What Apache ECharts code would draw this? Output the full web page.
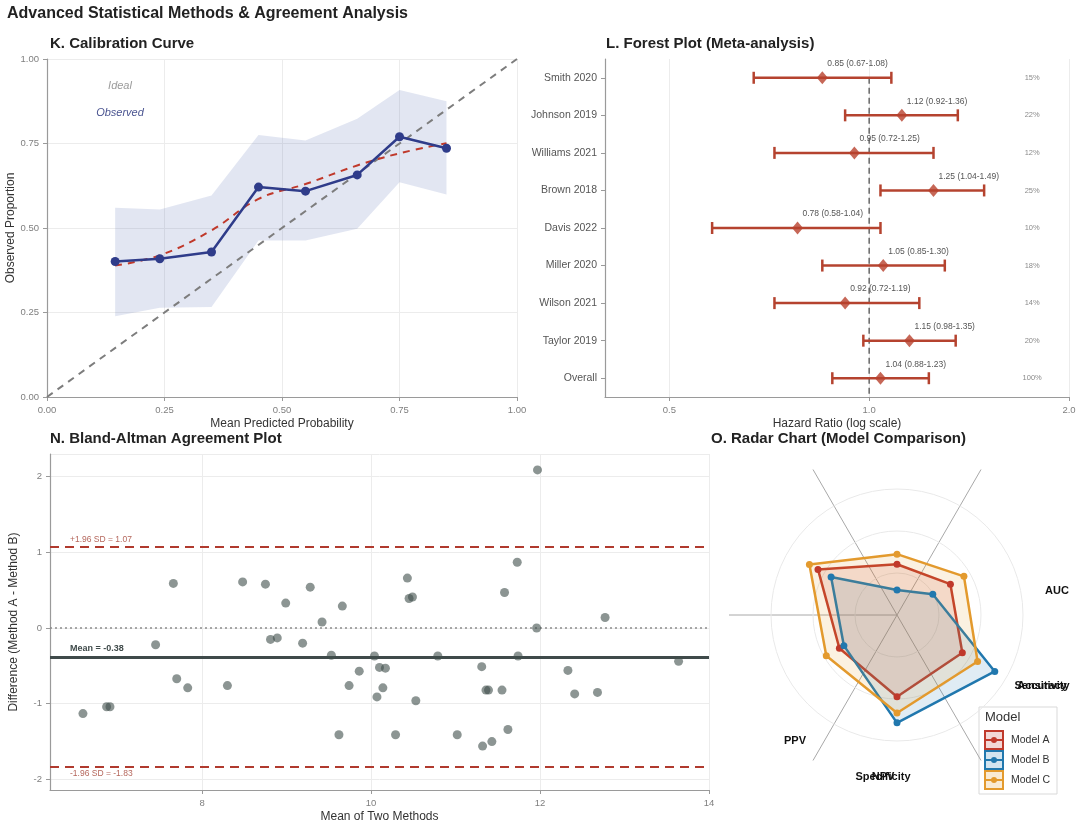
<!DOCTYPE html>
<html>
<head>
<meta charset="utf-8">
<title>Advanced Statistical Methods & Agreement Analysis</title>
<script src="https://cdn.jsdelivr.net/npm/echarts@6/dist/echarts.min.js"></script>
<style>
  html, body { margin: 0; padding: 0; background: #fff; }
  #wrap { position: relative; width: 1080px; height: 831px; }
  .layer { position: absolute; left: 0; top: 0; width: 1080px; height: 831px; }
</style>
</head>
<body>
<div id="wrap"></div>
<script>
// K. calibration curve
var calX = [0.145, 0.24, 0.35, 0.45, 0.55, 0.66, 0.75, 0.85];
var calObs = [0.401, 0.409, 0.429, 0.621, 0.609, 0.657, 0.770, 0.736];
var calLow = [0.239, 0.264, 0.266, 0.463, 0.463, 0.498, 0.635, 0.599];
var calHigh = [0.560, 0.555, 0.596, 0.775, 0.759, 0.823, 0.908, 0.875];
var calSmooth = [0.389, 0.419, 0.493, 0.586, 0.630, 0.685, 0.721, 0.751];

// L. forest plot
var studies = ['Smith 2020', 'Johnson 2019', 'Williams 2021', 'Brown 2018', 'Davis 2022',
  'Miller 2020', 'Wilson 2021', 'Taylor 2019', 'Overall'];
var hr = [0.85, 1.12, 0.95, 1.25, 0.78, 1.05, 0.92, 1.15, 1.04];
var hrLow = [0.67, 0.92, 0.72, 1.04, 0.58, 0.85, 0.72, 0.98, 0.88];
var hrHigh = [1.08, 1.36, 1.25, 1.49, 1.04, 1.30, 1.19, 1.35, 1.23];
var weights = ['15%', '22%', '12%', '25%', '10%', '18%', '14%', '20%', '100%'];

// N. Bland-Altman
var baMean = [11.97, 11.73, 10.43, 7.66, 8.48, 8.75, 9.28, 11.58, 10.45, 10.49, 8.99, 9.66,
  9.42, 12.77, 11.96, 7.45, 8.81, 8.89, 9.19, 9.53, 10.04, 10.79, 11.74, 13.64, 11.31,
  10.10, 10.17, 9.86, 12.33, 7.70, 7.83, 8.30, 9.74, 10.14, 11.36, 11.39, 11.55, 12.41,
  12.68, 10.07, 10.53, 6.59, 6.87, 6.91, 9.62, 10.29, 11.02, 11.62, 11.32, 11.43];
var baDiff = [2.09, 0.87, 0.66, 0.59, 0.61, 0.58, 0.54, 0.47, 0.39, 0.41, 0.33, 0.29,
  0.08, 0.14, 0.00, -0.22, -0.15, -0.13, -0.20, -0.36, -0.37, -0.37, -0.37, -0.44, -0.51,
  -0.52, -0.53, -0.57, -0.56, -0.67, -0.79, -0.76, -0.76, -0.79, -0.82, -0.82, -0.82, -0.87,
  -0.85, -0.91, -0.96, -1.13, -1.04, -1.04, -1.41, -1.41, -1.41, -1.34, -1.56, -1.50];
var baBias = -0.38;
var baUpper = 1.07;
var baLower = -1.83;

// O. radar (clockwise from the top)
var metrics = ['AUC', 'Sensitivity', 'Specificity', 'PPV', 'NPV', 'Accuracy'];
var models = ['Model A', 'Model B', 'Model C'];
var modelA = [0.302, 0.367, 0.449, 0.487, 0.396, 0.543];
var modelB = [0.149, 0.246, 0.672, 0.642, 0.365, 0.453];
var modelC = [0.362, 0.460, 0.554, 0.583, 0.486, 0.602];
var modelColors = ['#C0392B', '#2178AE', '#E39A2E'];
var modelFills = ['rgba(192,57,43,0.2)', 'rgba(33,120,174,0.2)', 'rgba(227,154,46,0.2)'];

var FONT = '"Liberation Sans", Arial, sans-serif';
var WEIGHT_COL = 1.76;

// each panel gets its own full-size transparent layer
function makeChart(option) {
  var dom = document.createElement('div');
  dom.className = 'layer';
  document.getElementById('wrap').appendChild(dom);
  var chart = echarts.init(dom);
  try {
    chart.setOption(option);
  } catch (e) {
    console.error(e);
  }
  return chart;
}

function titleOf(text, left, top, size) {
  return { text: text, left: left, top: top, padding: 0,
    textStyle: { fontSize: size || 15, fontWeight: 'bold', color: '#222', fontFamily: FONT } };
}

var axisBase = {
  axisLine: { show: true, onZero: false, lineStyle: { color: '#9a9a9a', width: 1.2 } },
  axisTick: { show: true, length: 4, lineStyle: { color: '#9a9a9a' } },
  axisLabel: { color: '#7f7f7f', fontSize: 9.5, fontFamily: FONT },
  splitLine: { show: true, lineStyle: { color: '#ececec', width: 1 } },
  nameLocation: 'middle',
  nameTextStyle: { color: '#333', fontSize: 12, fontFamily: FONT }
};
function ax(extra) {
  return Object.assign({}, axisBase, extra);
}
function lab(extra) {
  return Object.assign({}, axisBase.axisLabel, extra);
}
function fix2(v) { return v.toFixed(2); }

// ---- K. Calibration Curve ----
makeChart({
  animation: false,
  title: [
    titleOf('Advanced Statistical Methods & Agreement Analysis', 7, 6, 16),
    titleOf('K. Calibration Curve', 50, 36)
  ],
  grid: { left: 47, top: 59, width: 470, height: 338 },
  xAxis: ax({ type: 'value', min: 0, max: 1, interval: 0.25,
    name: 'Mean Predicted Probability', nameGap: 21, axisLabel: lab({ formatter: fix2 }) }),
  yAxis: ax({ type: 'value', min: 0, max: 1, interval: 0.25,
    name: 'Observed Proportion', nameGap: 30, axisLabel: lab({ formatter: fix2 }) }),
  series: [
    {
      type: 'custom', z: 1, silent: true,
      data: calX.map(function (x, i) { return [x, calLow[i], calHigh[i]]; }),
      encode: { x: 0, y: [1, 2] },
      renderItem: function (params, api) {
        if (params.dataIndex !== 0) return null;
        var pts = [];
        for (var i = 0; i < calX.length; i++) pts.push(api.coord([calX[i], calHigh[i]]));
        for (var j = calX.length - 1; j >= 0; j--) pts.push(api.coord([calX[j], calLow[j]]));
        return { type: 'polygon', shape: { points: pts }, style: { fill: 'rgba(112,128,192,0.2)' } };
      }
    },
    {
      name: 'Ideal', type: 'line', z: 2, data: [[0, 0], [1, 1]], symbol: 'none',
      lineStyle: { color: '#7d7d7d', width: 2, type: [7, 6] }
    },
    {
      name: 'Smoothed', type: 'line', z: 3, smooth: 0.4, symbol: 'none',
      data: calX.map(function (x, i) { return [x, calSmooth[i]]; }),
      lineStyle: { color: '#C0392B', width: 2, type: [7, 6] }
    },
    {
      name: 'Observed', type: 'line', z: 4,
      data: calX.map(function (x, i) { return [x, calObs[i]]; }),
      symbol: 'circle', symbolSize: 9,
      lineStyle: { color: '#2F3C8A', width: 2.5 },
      itemStyle: { color: '#2F3C8A' }
    }
  ],
  graphic: [
    { type: 'text', x: 120, y: 86, style: { text: 'Ideal', fill: '#9a9a9a', fontSize: 11, fontStyle: 'italic', fontFamily: FONT, align: 'center', verticalAlign: 'middle' } },
    { type: 'text', x: 120, y: 113, style: { text: 'Observed', fill: '#4A5490', fontSize: 11, fontStyle: 'italic', fontFamily: FONT, align: 'center', verticalAlign: 'middle' } }
  ]
});

// ---- L. Forest Plot ----
makeChart({
  animation: false,
  title: titleOf('L. Forest Plot (Meta-analysis)', 606, 36),
  grid: { left: 605, top: 59, width: 464, height: 338 },
  xAxis: ax({ type: 'log', logBase: 2, min: 0.4, max: 2,
    name: 'Hazard Ratio (log scale)', nameGap: 21,
    axisLabel: lab({ showMinLabel: false, formatter: function (v) { return (+v).toFixed(1); } }) }),
  yAxis: ax({ type: 'category', data: studies, inverse: true,
    axisTick: { show: true, alignWithLabel: true, length: 4, lineStyle: { color: '#9a9a9a' } },
    splitLine: { show: false },
    axisLabel: { color: '#555', fontSize: 10.5, fontFamily: FONT } }),
  series: [
    {
      type: 'custom', z: 3, silent: true,
      data: studies.map(function (s, i) { return [hrLow[i], hrHigh[i], i]; }),
      encode: { x: [0, 1], y: 2 },
      renderItem: function (params, api) {
        var i = params.dataIndex;
        var p1 = api.coord([hrLow[i], i]);
        var p2 = api.coord([hrHigh[i], i]);
        var pe = api.coord([hr[i], i]);
        var pw = api.coord([WEIGHT_COL, i]);
        var st = { stroke: '#B5432F', lineWidth: 2.5 };
        var cap = 6;
        return {
          type: 'group',
          children: [
            { type: 'line', shape: { x1: p1[0], y1: p1[1], x2: p2[0], y2: p2[1] }, style: st },
            { type: 'line', shape: { x1: p1[0], y1: p1[1] - cap, x2: p1[0], y2: p1[1] + cap }, style: st },
            { type: 'line', shape: { x1: p2[0], y1: p2[1] - cap, x2: p2[0], y2: p2[1] + cap }, style: st },
            { type: 'text', x: pe[0] + 5, y: pe[1] - 14,
              style: { text: hr[i].toFixed(2) + ' (' + hrLow[i].toFixed(2) + '-' + hrHigh[i].toFixed(2) + ')',
                fill: '#555', fontSize: 8.5, fontFamily: FONT, align: 'left', verticalAlign: 'middle' } },
            { type: 'text', x: pw[0], y: pw[1],
              style: { text: weights[i], fill: '#8a8a8a', fontSize: 7.5, fontFamily: FONT,
                align: 'center', verticalAlign: 'middle' } }
          ]
        };
      }
    },
    {
      type: 'scatter', z: 4,
      data: hr.map(function (v, i) { return [v, i]; }),
      symbol: 'diamond', symbolSize: [11, 13],
      itemStyle: { color: '#B8412D' }
    },
    {
      // reference line at HR = 1
      type: 'line', z: 2, symbol: 'none', silent: true,
      data: [[1, -0.5], [1, studies.length - 0.5]],
      lineStyle: { color: '#666', width: 1.5, type: [6, 4] }
    }
  ]
});

// ---- N. Bland-Altman ----
makeChart({
  animation: false,
  title: titleOf('N. Bland-Altman Agreement Plot', 50, 431),
  grid: { left: 48, top: 454, width: 661, height: 336 },
  xAxis: ax({ type: 'value', min: 6.2, max: 14,
    name: 'Mean of Two Methods', nameGap: 21, axisLabel: lab({ showMinLabel: false }) }),
  yAxis: ax({ type: 'value', min: -2.14, max: 2.3,
    name: 'Difference (Method A - Method B)', nameGap: 30,
    axisLabel: lab({ showMinLabel: false, showMaxLabel: false }) }),
  series: [
    {
      type: 'scatter', z: 4,
      data: baMean.map(function (m, i) { return [m, baDiff[i]]; }),
      symbolSize: 9,
      itemStyle: { color: 'rgba(64,78,75,0.75)' },
      markLine: {
        silent: true, symbol: 'none', z: 3, animation: false,
        data: [
          { yAxis: 0, lineStyle: { color: '#8c8c8c', width: 1.5, type: [2, 3] }, label: { show: false } },
          { yAxis: baUpper, lineStyle: { color: '#B03A2E', width: 2, type: [9, 6] },
            label: { show: true, position: 'insideStartTop', distance: [20, 3],
              formatter: '+1.96 SD = ' + baUpper.toFixed(2), color: '#B5675C', fontSize: 8.5, fontFamily: FONT } },
          { yAxis: baLower, lineStyle: { color: '#B03A2E', width: 2, type: [9, 6] },
            label: { show: true, position: 'insideStartBottom', distance: [20, 3],
              formatter: '-1.96 SD = ' + baLower.toFixed(2), color: '#B5675C', fontSize: 8.5, fontFamily: FONT } },
          { yAxis: baBias, lineStyle: { color: '#3F4A4A', width: 3, type: 'solid' },
            label: { show: true, position: 'insideStartTop', distance: [20, 4],
              formatter: 'Mean = ' + baBias.toFixed(2), color: '#3F4A4A', fontWeight: 'bold', fontSize: 9, fontFamily: FONT } }
        ]
      }
    }
  ]
});

// ---- O. Radar ----
// ECharts radar goes counter-clockwise, the picture goes clockwise
function ccw(arr) {
  return [arr[0], arr[5], arr[4], arr[3], arr[2], arr[1]];
}
var legendItems = [];
models.forEach(function (m, k) {
  var yy = 24 + k * 20;
  legendItems.push(
    { type: 'rect', shape: { x: 6, y: yy, width: 18, height: 18 }, style: { fill: modelFills[k], stroke: modelColors[k], lineWidth: 2 } },
    { type: 'line', shape: { x1: 6, y1: yy + 9, x2: 24, y2: yy + 9 }, style: { stroke: modelColors[k], lineWidth: 2 } },
    { type: 'circle', shape: { cx: 15, cy: yy + 9, r: 3 }, style: { fill: modelColors[k] } },
    { type: 'text', x: 32, y: yy + 9, style: { text: m, fill: '#333', fontSize: 10.5, fontFamily: FONT, verticalAlign: 'middle' } }
  );
});
function axisName(text, x, y) {
  return { type: 'text', x: x, y: y, style: { text: text, fill: '#111', fontSize: 11, fontWeight: 'bold',
    fontFamily: FONT, align: 'center', verticalAlign: 'middle' } };
}

makeChart({
  animation: false,
  title: titleOf('O. Radar Chart (Model Comparison)', 711, 431),
  radar: {
    center: [897, 615],
    radius: 168,
    startAngle: 90,
    shape: 'circle',
    splitNumber: 4,
    indicator: ccw(metrics).map(function (m) { return { name: m, min: 0, max: 1 }; }),
    axisName: { show: false },
    axisLine: { show: false },
    axisTick: { show: false },
    axisLabel: { show: false },
    splitArea: { show: false },
    splitLine: { lineStyle: { color: ['#e9e9e9', '#e9e9e9', '#e9e9e9', '#e9e9e9', 'rgba(0,0,0,0)'], width: 1 } }
  },
  polar: { center: [897, 615], radius: 168 },
  angleAxis: {
    type: 'value', min: 0, max: 360, interval: 60,
    startAngle: 0, clockwise: false,
    axisLine: { show: false }, axisTick: { show: false }, axisLabel: { show: false },
    splitLine: { show: true, lineStyle: { color: ['rgba(0,0,0,0)', '#a8a8a8', '#a8a8a8', '#a8a8a8', '#a8a8a8', '#a8a8a8'], width: 1 } }
  },
  radiusAxis: { type: 'value', show: false, min: 0, max: 1, splitLine: { show: false } },
  series: [
    {
      type: 'radar', z: 3,
      symbol: 'circle', symbolSize: 7,
      data: [modelA, modelB, modelC].map(function (vals, k) {
        return {
          name: models[k], value: ccw(vals),
          lineStyle: { color: modelColors[k], width: 2.5 },
          itemStyle: { color: modelColors[k] },
          areaStyle: { color: modelFills[k] }
        };
      })
    }
  ],
  graphic: [
    axisName('AUC', 1057, 591),
    axisName('Sensitivity', 1042, 686),
    axisName('Accuracy', 1042, 686),
    axisName('Specificity', 883, 777),
    axisName('NPV', 883, 777),
    axisName('PPV', 795, 741),
    {
      type: 'group', x: 979, y: 707, z: 100,
      children: [
        { type: 'rect', shape: { x: 0, y: 0, width: 78, height: 87 }, style: { fill: '#fff', stroke: '#d9d9d9', lineWidth: 1 } },
        { type: 'text', x: 6, y: 10, style: { text: 'Model', fill: '#333', fontSize: 13, fontFamily: FONT, verticalAlign: 'middle' } }
      ].concat(legendItems)
    }
  ]
});
</script>
</body>
</html>
